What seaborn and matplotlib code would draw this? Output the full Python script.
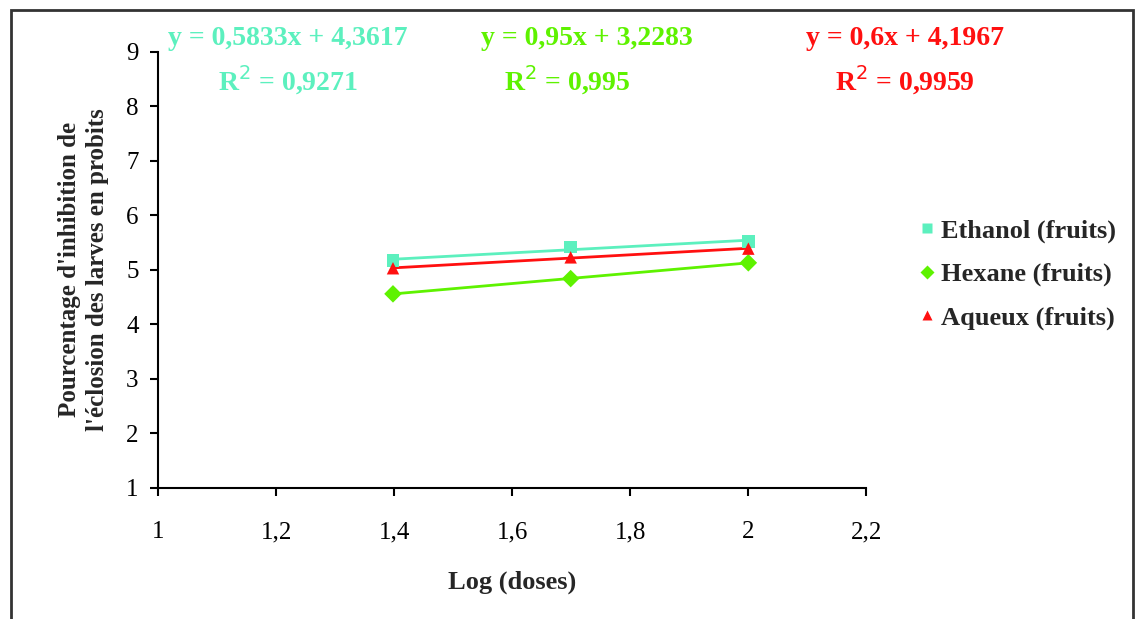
import numpy as np
import pandas as pd
import seaborn as sns
import matplotlib.pyplot as plt
from matplotlib.patches import Rectangle

# values
log_doses = [1.398, 1.699, 2.0]
ethanol = [5.17, 5.42, 5.52]
hexane = [4.56, 4.84, 5.13]
aqueux = [5.03, 5.23, 5.39]

series = ["Ethanol (fruits)", "Hexane (fruits)", "Aqueux (fruits)"]
colors = ["#5CF0BE", "#5EF200", "#FF1010"]
markers = ["s", "D", "^"]
equations = ["y = 0,5833x + 4,3617", "y = 0,95x + 3,2283", "y = 0,6x + 4,1967"]
r2_labels = ["0,9271", "0,995", "0,9959"]

x_ticks = [1, 1.2, 1.4, 1.6, 1.8, 2, 2.2]
x_ticklabels = ["1", "1,2", "1,4", "1,6", "1,8", "2", "2,2"]
y_ticks = [1, 2, 3, 4, 5, 6, 7, 8, 9]

df = pd.DataFrame({
    "x": log_doses * 3,
    "y": ethanol + hexane + aqueux,
    "serie": [s for s in series for _ in log_doses],
})

sns.set_style("white")
plt.rcParams["font.family"] = ["Liberation Serif", "DejaVu Serif"]

fig = plt.figure(figsize=(11.37, 6.19), dpi=100)
ax = fig.add_axes([0.139, 0.212, 0.623, 0.704])

palette = dict(zip(series, colors))
marker_map = dict(zip(series, markers))

# linear trendlines
for s, c in zip(series, colors):
    sub = df[df["serie"] == s]
    a, b = np.polyfit(sub["x"], sub["y"], 1)
    xs = np.array([sub["x"].min(), sub["x"].max()])
    ax.plot(xs, a * xs + b, color=c, lw=2, zorder=2)

sns.scatterplot(data=df, x="x", y="y", hue="serie", style="serie",
                palette=palette, markers=marker_map, s=80, edgecolor="none",
                ax=ax, zorder=3)

ax.set_xlim(1, 2.2)
ax.set_ylim(1, 9)
ax.set_xticks(x_ticks)
ax.set_xticklabels(x_ticklabels)
ax.set_yticks(y_ticks)
ax.tick_params(axis="both", direction="out", length=6, width=1.5, labelsize=18,
               colors="black", bottom=True, left=True)
ax.tick_params(axis="x", pad=18)
ax.tick_params(axis="y", pad=8)
for side in ["top", "right"]:
    ax.spines[side].set_visible(False)
for side in ["left", "bottom"]:
    ax.spines[side].set_color("black")
    ax.spines[side].set_linewidth(1.5)

ax.set_xlabel("Log (doses)", fontsize=19, fontweight="bold", labelpad=20)
ax.set_ylabel("Pourcentage d'inhibition de\nl'éclosion des larves en probits",
              fontsize=18, fontweight="bold", labelpad=12, linespacing=1.3)

handles, labels = ax.get_legend_handles_labels()
leg = ax.legend(handles, labels, loc="center left", bbox_to_anchor=(1.037, 0.49),
                frameon=False, handlelength=0.8, handletextpad=0.15,
                labelspacing=0.75, prop={"size": 19, "weight": "bold"},
                markerscale=0.85)

# equation / R² labels
eq_x = [0.253, 0.516, 0.796]
r2_x = [0.253, 0.499, 0.796]
for i, c in enumerate(colors):
    fig.text(eq_x[i], 0.938, equations[i], color=c, fontsize=20,
             fontweight="bold", ha="center", va="center")
    fig.text(r2_x[i], 0.87, "R$^2$ = " + r2_labels[i], color=c, fontsize=20,
             fontweight="bold", ha="center", va="center")

# outer chart frame
fig.patches.append(Rectangle((11 / 1137, -0.05), 1122 / 1137, 1.05 - 10 / 619,
                             transform=fig.transFigure, fill=False,
                             edgecolor="#333333", lw=2))

fig.savefig("out.png", dpi=100)
